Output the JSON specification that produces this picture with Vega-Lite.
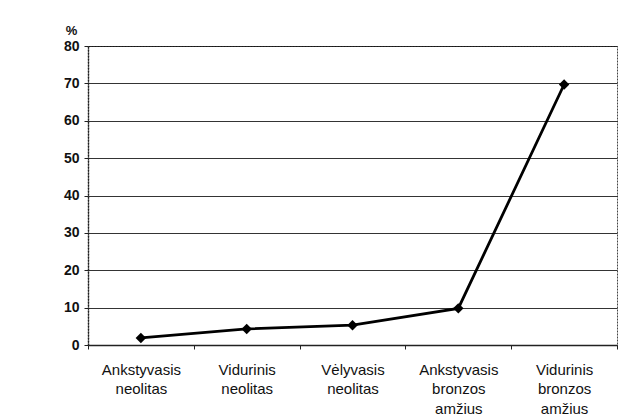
{
  "$schema": "https://vega.github.io/schema/vega-lite/v6.json",
  "width": 529,
  "height": 299,
  "autosize": {"type": "none"},
  "padding": {"left": 88, "top": 46, "right": 11, "bottom": 73},
  "background": "white",
  "config": {
    "font": "Liberation Sans",
    "view": {"stroke": "#444", "strokeWidth": 1, "strokeDash": [2, 1]}
  },
  "data": {
    "values": [
      {"period": "Ankstyvasis neolitas", "pct": 1.9},
      {"period": "Vidurinis neolitas", "pct": 4.3},
      {"period": "Vėlyvasis neolitas", "pct": 5.3},
      {"period": "Ankstyvasis bronzos amžius", "pct": 9.8},
      {"period": "Vidurinis bronzos amžius", "pct": 69.7}
    ]
  },
  "encoding": {
    "x": {
      "field": "period",
      "type": "nominal",
      "sort": null,
      "scale": {"paddingInner": 0, "paddingOuter": 0},
      "axis": {
        "title": null,
        "labelAngle": 0,
        "labelExpr": "split(datum.label, ' ')",
        "labelFontSize": 15,
        "labelColor": "#111",
        "labelLineHeight": 19.5,
        "labelPadding": 20,
        "labelBaseline": "middle",
        "domainColor": "#222",
        "domainWidth": 1.5,
        "tickColor": "#222",
        "tickSize": 4,
        "tickBand": "extent"
      }
    },
    "y": {
      "field": "pct",
      "type": "quantitative",
      "scale": {"domain": [0, 80], "nice": false},
      "axis": {
        "values": [0, 10, 20, 30, 40, 50, 60, 70, 80],
        "title": "%",
        "titleAngle": 0,
        "titleFontSize": 13,
        "titleFontWeight": "bold",
        "titleX": -17,
        "titleY": -9,
        "titleAlign": "center",
        "titleColor": "#111",
        "labelFontSize": 14,
        "labelFontWeight": "bold",
        "labelColor": "#111",
        "labelPadding": 5,
        "domainColor": "#222",
        "domainWidth": 1.5,
        "domainDash": [2, 1],
        "tickColor": "#222",
        "tickSize": 4,
        "gridColor": "#111",
        "gridWidth": 1,
        "gridOpacity": 0.85
      }
    }
  },
  "layer": [
    {
      "mark": {"type": "line", "color": "black", "strokeWidth": 2.8}
    },
    {
      "mark": {"type": "point", "shape": "diamond", "filled": true, "color": "black", "size": 110, "opacity": 1}
    }
  ]
}
